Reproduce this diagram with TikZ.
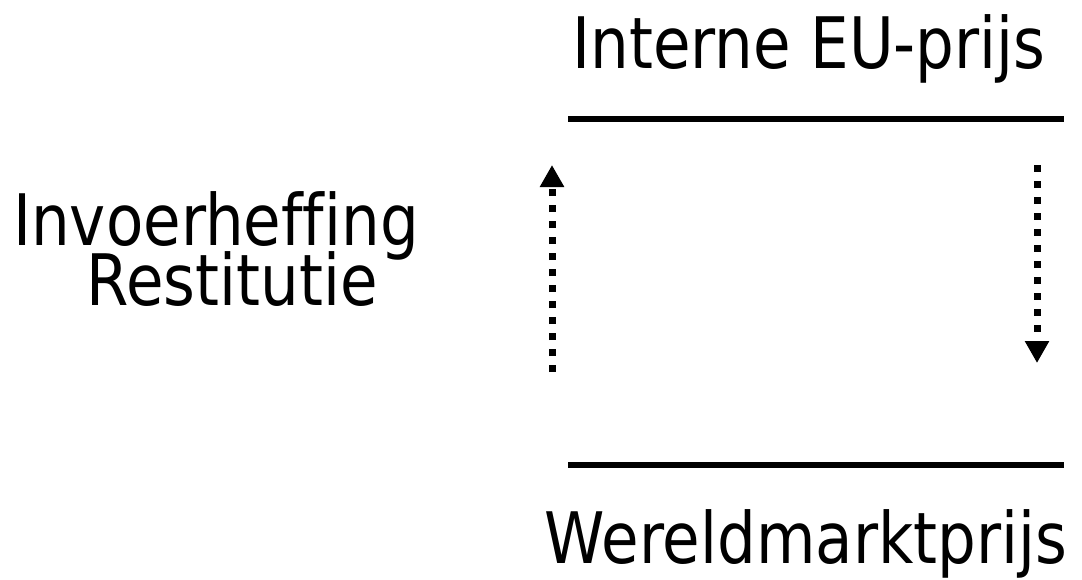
\documentclass[tikz,border=0pt]{standalone}
\usepackage{fontspec}
\setmainfont[FakeStretch=0.86,Ligatures=NoCommon]{DejaVu Sans}
\usetikzlibrary{arrows.meta}
\begin{document}
\begin{tikzpicture}[x=1pt,y=-1pt,
  lbl/.style={anchor=base,inner sep=0pt,font=\fontsize{71}{71}\selectfont},
  bar/.style={line width=6pt},
  flow/.style={line width=7pt,dash pattern=on 7pt off 9pt,-{Triangle[width=23pt,length=22pt]}}]
\useasboundingbox (0,0) rectangle (1082,579);
\node[lbl] (eu) at (809,68) {Interne EU-prijs};
\node[lbl] (wm) at (806,563) {Wereldmarktprijs};
\node[lbl] (inv) at (216,245) {Invoerheffing};
\node[lbl] (res) at (232,305) {Restitutie};
\coordinate (t1) at (568,119);
\coordinate (t2) at (1064,119);
\coordinate (b1) at (568,465);
\coordinate (b2) at (1064,465);
\coordinate (ua) at (552,372);
\coordinate (ub) at (552,165);
\coordinate (da) at (1037,165);
\coordinate (db) at (1037,363);
\draw[bar] (t1) -- (t2);
\draw[bar] (b1) -- (b2);
\draw[flow] (ua) -- (ub);
\draw[flow] (da) -- (db);
\end{tikzpicture}
\end{document}
